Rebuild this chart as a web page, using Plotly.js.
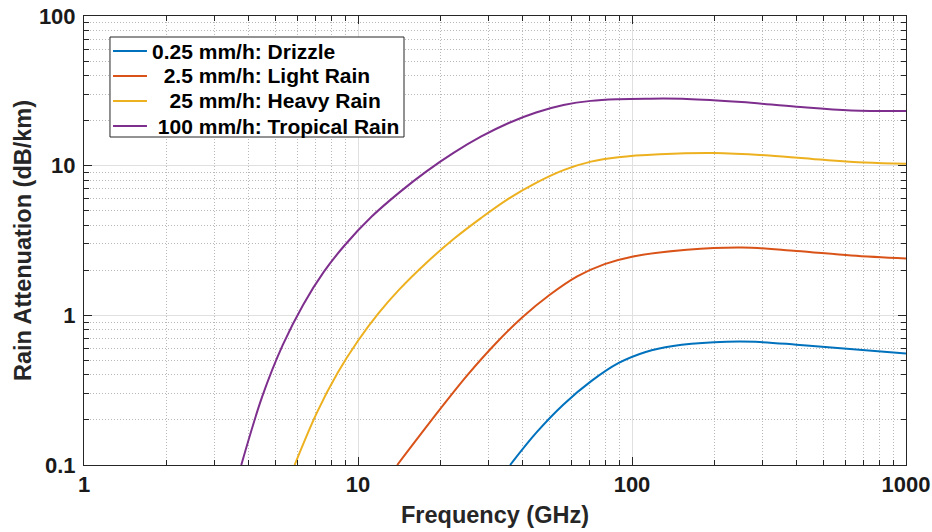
<!DOCTYPE html>
<html>
<head>
<meta charset="utf-8">
<script src="https://cdn.plot.ly/plotly-3.0.1.min.js"></script>
<style>
  html, body { margin: 0; padding: 0; background: #ffffff; }
  #chart { width: 932px; height: 532px; }
</style>
</head>
<body>
<div id="chart"></div>
<script>
// Specific rain attenuation vs. frequency for four rain rates (log-log)

const seriesNames = [
  "0.25 mm/h: Drizzle",
  "\u00A0\u00A02.5 mm/h: Light Rain",
  "\u00A0\u00A0\u00A025 mm/h: Heavy Rain",
  "\u00A0100 mm/h: Tropical Rain"
];
const seriesColors = ["#0072BD", "#D95319", "#EDB120", "#7E2F8E"];

// Frequency (GHz) and attenuation (dB/km) for each rain rate
const drizzleFreq = [35.9, 44.67, 56.23, 70.79, 89.13, 112.2, 141.3, 199.5, 281.8, 398.1, 562.3, 1000];
const drizzleAtt  = [0.1, 0.164, 0.254, 0.362, 0.479, 0.569, 0.624, 0.661, 0.665, 0.637, 0.604, 0.555];

const lightFreq = [13.9, 20.0, 25.12, 31.62, 39.81, 50.12, 63.1, 79.43, 100, 158.5, 251.2, 398.1, 631, 1000];
const lightAtt  = [0.1, 0.238, 0.4, 0.641, 0.971, 1.371, 1.82, 2.198, 2.466, 2.742, 2.844, 2.692, 2.512, 2.399];

const heavyFreq = [5.87, 7.08, 8.41, 10, 11.89, 14.13, 17.78, 22.39, 28.18, 35.48, 44.67, 56.23, 70.79, 89.13, 125.9, 199.5, 316.2, 501.2, 707.9, 1000];
const heavyAtt  = [0.1, 0.224, 0.41, 0.676, 1.033, 1.484, 2.246, 3.248, 4.482, 6.026, 7.674, 9.333, 10.64, 11.4, 11.93, 12.16, 11.7, 10.94, 10.5, 10.3];

const tropicalFreq = [3.75, 4.47, 5.31, 6.31, 7.5, 8.91, 11.22, 14.13, 17.78, 22.39, 28.18, 35.48, 44.67, 56.23, 70.79, 89.13, 112.2, 158.5, 251.2, 398.1, 631, 1000];
const tropicalAtt  = [0.1, 0.286, 0.632, 1.178, 1.95, 2.917, 4.571, 6.607, 9.162, 12.22, 15.67, 19.28, 22.65, 25.41, 27.1, 27.8, 28.02, 27.93, 26.61, 24.77, 23.39, 23.17];

// Axis ticks
const xTickVals = [1, 10, 100, 1000];
const xTickText = ["1", "10", "100", "1000"];
const yTickVals = [0.1, 1, 10, 100];
const yTickText = ["0.1", "1", "10", "100"];

// Minor ticks at 2..9 of every decade
function decadeMinors(fromExp, toExp) {
  const v = [];
  for (let e = fromExp; e < toExp; e++) {
    for (let d = 2; d <= 9; d++) v.push(d * Math.pow(10, e));
  }
  return v;
}

const freqs = [drizzleFreq, lightFreq, heavyFreq, tropicalFreq];
const atts = [drizzleAtt, lightAtt, heavyAtt, tropicalAtt];

const traces = seriesNames.map((name, i) => ({
  type: "scatter",
  mode: "lines",
  name: name,
  x: freqs[i],
  y: atts[i],
  line: { color: seriesColors[i], width: 2, shape: "spline", smoothing: 1 },
  showlegend: false
}));

const FAMILY = "Liberation Sans, Arial, sans-serif";
const tickFont = { family: FAMILY, size: 22, color: "#1a1a1a", weight: "bold" };
const titleFont = { family: FAMILY, size: 23.5, color: "#262626", weight: "bold" };

const minorStyle = {
  tickmode: "array",
  ticks: "inside",
  ticklen: 5,
  tickcolor: "#262626",
  showgrid: true,
  gridcolor: "#b8b8b8",
  griddash: "1px,2px",
  gridwidth: 1
};

const commonAxis = {
  type: "log",
  showline: true,
  linecolor: "#262626",
  linewidth: 1,
  mirror: "allticks",
  ticks: "inside",
  ticklen: 8,
  tickwidth: 1,
  tickcolor: "#262626",
  tickmode: "array",
  showgrid: true,
  gridcolor: "#e0e0e0",
  gridwidth: 1,
  zeroline: false,
  tickfont: tickFont
};

// Legend box, drawn in the upper-left corner of the plot area (paper units)
const legendBox = { x0: 0.0316, x1: 0.3893, y0: 0.7305, y1: 0.9532 };
const legendRows = [0.9220, 0.8664, 0.8107, 0.7550];
const legendLine = { x0: 0.0353, x1: 0.0766 };
const legendTextX = 0.0803;

const shapes = [{
  type: "rect", xref: "paper", yref: "paper", layer: "above",
  x0: legendBox.x0, x1: legendBox.x1, y0: legendBox.y0, y1: legendBox.y1,
  fillcolor: "#ffffff", line: { color: "#262626", width: 1 }
}].concat(seriesNames.map((_, i) => ({
  type: "line", xref: "paper", yref: "paper", layer: "above",
  x0: legendLine.x0, x1: legendLine.x1, y0: legendRows[i], y1: legendRows[i],
  line: { color: seriesColors[i], width: 2 }
})));

const annotations = seriesNames.map((name, i) => ({
  xref: "paper", yref: "paper",
  x: legendTextX, y: legendRows[i],
  xanchor: "left", yanchor: "middle",
  text: name, showarrow: false,
  font: { family: FAMILY, size: 21, color: "#000000", weight: "bold" }
}));

const layout = {
  width: 932,
  height: 532,
  margin: { l: 84, r: 26, t: 16, b: 67 },
  paper_bgcolor: "#ffffff",
  plot_bgcolor: "#ffffff",
  showlegend: false,
  xaxis: Object.assign({}, commonAxis, {
    range: [0, 3],
    tickvals: xTickVals,
    ticktext: xTickText,
    minor: Object.assign({ tickvals: decadeMinors(0, 3) }, minorStyle),
    title: { text: "Frequency (GHz)", font: titleFont, standoff: 10 }
  }),
  yaxis: Object.assign({}, commonAxis, {
    range: [-1, 2],
    tickvals: yTickVals,
    ticktext: yTickText,
    ticklabelstandoff: 3,
    minor: Object.assign({ tickvals: decadeMinors(-1, 2) }, minorStyle),
    title: { text: "Rain Attenuation (dB/km)", font: titleFont, standoff: 0 }
  }),
  shapes: shapes,
  annotations: annotations
};

Plotly.newPlot("chart", traces, layout, { displayModeBar: false, staticPlot: true });
</script>
</body>
</html>
